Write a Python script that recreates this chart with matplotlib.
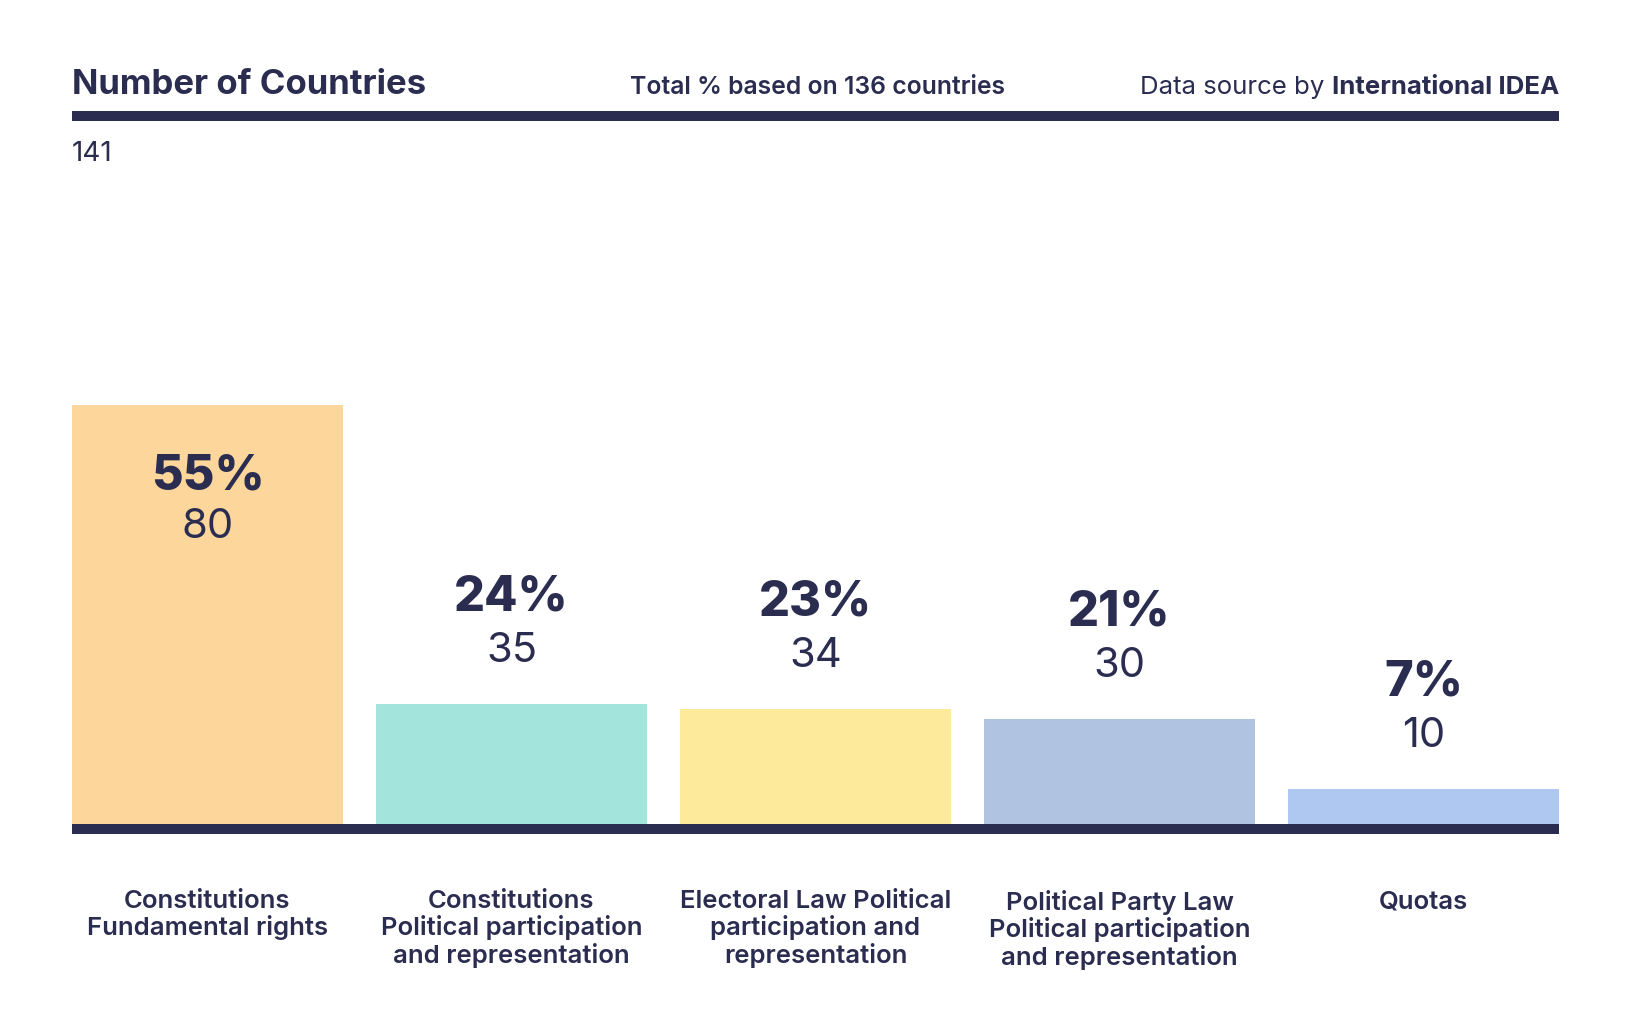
import matplotlib
matplotlib.use("Agg")
import matplotlib.pyplot as plt
from matplotlib.lines import Line2D

# ---- data ----
categories = [
    "Constitutions\nFundamental rights",
    "Constitutions\nPolitical participation\nand representation",
    "Electoral Law Political\nparticipation and\nrepresentation",
    "Political Party Law\nPolitical participation\nand representation",
    "Quotas",
]
counts = [80, 35, 34, 30, 10]
percents = [55, 24, 23, 21, 7]
bar_heights = [84, 24, 23, 21, 7]   # bar heights as drawn (axis max 141)
y_max = 141
colors = ["#FDD69B", "#A3E4DD", "#FDEA9B", "#B0C4E2", "#AFC8F2"]

title = "Number of Countries"
subtitle = "Total % based on 136 countries"
source_pre = "Data source by "
source_bold = "International IDEA"

NAVY = "#2B2D50"
FONT = ["Inter", "DejaVu Sans"]
plt.rcParams["font.family"] = FONT

W, H = 1632, 1036
fig = plt.figure(figsize=(W / 100, H / 100), dpi=100)
fig.patch.set_facecolor("white")

def fx(px):
    return px / W

def fy(py):
    return 1 - py / H

L, R = 72, 1559
ax_top, ax_bot = 121, 824
ax = fig.add_axes([fx(L), fy(ax_bot), fx(R) - fx(L), fy(ax_top) - fy(ax_bot)])
ax.set_axis_off()

n = len(categories)
width = 0.891
xs = list(range(n))
ax.bar(xs, bar_heights, width=width, color=colors, zorder=2)
ax.set_xlim(-width / 2, n - 1 + width / 2)
ax.set_ylim(0, y_max)

PT = 0.72  # points per pixel at dpi 100

for i, (x, h) in enumerate(zip(xs, bar_heights)):
    off_p = -71 if i == 0 else 107
    off_c = -122 if i == 0 else 53
    ax.annotate(f"{percents[i]}%", (x, h), xytext=(0, off_p * PT),
                textcoords="offset points", ha="center", va="center",
                fontsize=35, fontweight="heavy", color=NAVY)
    ax.annotate(f"{counts[i]}", (x, h), xytext=(0, off_c * PT),
                textcoords="offset points", ha="center", va="center",
                fontsize=30, fontweight="normal", color=NAVY)
    ax.annotate(categories[i], (x, 0), xytext=(0, -66 * PT),
                textcoords="offset points", ha="center", va="top",
                fontsize=18.5, fontweight="semibold", color=NAVY, linespacing=1.12)

# y-axis max label
fig.text(fx(L), fy(154), str(y_max), ha="left", va="center",
         fontsize=20, fontweight="normal", color=NAVY)

# lines
fig.add_artist(Line2D([fx(L), fx(R)], [fy(115.5)] * 2, lw=10 * PT, color=NAVY,
                      solid_capstyle="butt"))
fig.add_artist(Line2D([fx(L), fx(R)], [fy(829)] * 2, lw=10 * PT, color=NAVY,
                      solid_capstyle="butt"))

# header texts
fig.text(fx(L), fy(94), title, ha="left", va="baseline",
         fontsize=25, fontweight="bold", color=NAVY)
fig.text(fx(817), fy(94), subtitle, ha="center", va="baseline",
         fontsize=17.8, fontweight="semibold", color=NAVY)
tb = fig.text(fx(R), fy(94), source_bold, ha="right", va="baseline",
              fontsize=18.6, fontweight="bold", color=NAVY)
fig.canvas.draw()
bb = tb.get_window_extent()
fig.text(bb.x0 / W, fy(94), source_pre, ha="right", va="baseline",
         fontsize=18.6, fontweight="normal", color=NAVY)

fig.savefig("out.png", dpi=100, facecolor="white")
